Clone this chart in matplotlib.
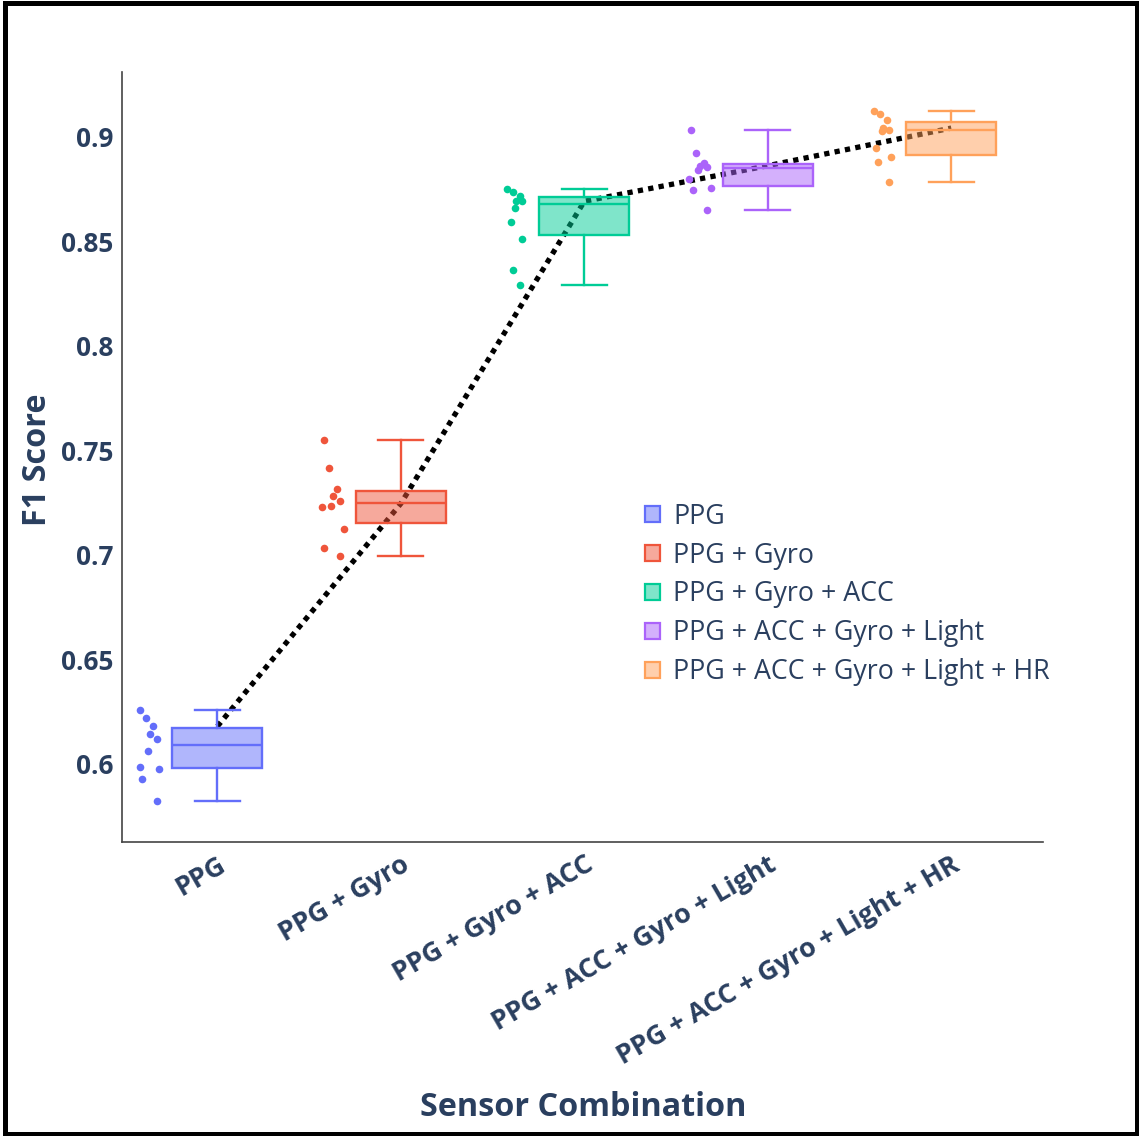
import matplotlib
matplotlib.use("Agg")
import matplotlib.pyplot as plt
import matplotlib.patches as mpatches
import numpy as np

# ---------------- data ----------------
categories = ["PPG", "PPG + Gyro", "PPG + Gyro + ACC",
              "PPG + ACC + Gyro + Light", "PPG + ACC + Gyro + Light + HR"]

ppg = [0.6259, 0.6219, 0.6182, 0.6144, 0.6120, 0.6062, 0.5987, 0.5978, 0.5930, 0.5824]
ppg_gyro = [0.7548, 0.7414, 0.7314, 0.7282, 0.7256, 0.7229, 0.7235, 0.7125, 0.7032, 0.6994]
ppg_gyro_acc = [0.8751, 0.8732, 0.8714, 0.8692, 0.8690, 0.8660, 0.8592, 0.8508, 0.8362, 0.8290]
ppg_acc_gyro_light = [0.9033, 0.8922, 0.8873, 0.8854, 0.8841, 0.8795, 0.8746, 0.8752, 0.8648, 0.8860]
ppg_acc_gyro_light_hr = [0.9120, 0.9108, 0.9080, 0.9040, 0.9032, 0.9025, 0.8946, 0.8901, 0.8878, 0.8780]

# horizontal placement of the individual points (category units)
jitter_ppg = [-0.42, -0.39, -0.35, -0.37, -0.33, -0.38, -0.42, -0.32, -0.41, -0.33]
jitter_gyro = [-0.42, -0.39, -0.35, -0.37, -0.33, -0.43, -0.38, -0.31, -0.42, -0.33]
jitter_acc = [-0.42, -0.39, -0.35, -0.37, -0.34, -0.38, -0.40, -0.34, -0.39, -0.35]
jitter_light = [-0.42, -0.39, -0.35, -0.33, -0.38, -0.43, -0.41, -0.31, -0.33, -0.37]
jitter_hr = [-0.42, -0.39, -0.35, -0.37, -0.34, -0.38, -0.41, -0.33, -0.40, -0.34]

# dotted trend line values
trend = [0.618, 0.7245, 0.869, 0.886, 0.904]

yticks = [0.6, 0.65, 0.7, 0.75, 0.8, 0.85, 0.9]
ytick_labels = ["0.6", "0.65", "0.7", "0.75", "0.8", "0.85", "0.9"]

colors = ["#636EFA", "#EF553B", "#00CC96", "#AB63FA", "#FFA15A"]

groups = [ppg, ppg_gyro, ppg_gyro_acc, ppg_acc_gyro_light, ppg_acc_gyro_light_hr]
jitters = [jitter_ppg, jitter_gyro, jitter_acc, jitter_light, jitter_hr]

# ---------------- figure ----------------
FONT = "Open Sans"
TXT = "#2a3f5f"
plt.rcParams["font.family"] = [FONT, "DejaVu Sans"]

W, H = 1139, 1136
fig = plt.figure(figsize=(W / 100, H / 100), dpi=100)
ax = fig.add_axes([122 / W, 1 - 842 / H, (1043 - 122) / W, (842 - 72) / H])

pos = np.arange(len(categories))

# trend line (beneath boxes)
ax.plot(pos, trend, color="black", lw=3.8, ls=(0, (1, 1.0)), zorder=1,
        solid_capstyle="butt", dash_capstyle="butt")

for i, (vals, col, jit) in enumerate(zip(groups, colors, jitters)):
    bp = ax.boxplot([vals], positions=[i], widths=0.49, whis=(0, 100),
                    showfliers=False, patch_artist=True, capwidths=[0.245],
                    manage_ticks=False, zorder=2)
    for b in bp["boxes"]:
        b.set_facecolor(matplotlib.colors.to_rgba(col, 0.5))
        b.set_edgecolor(col)
        b.set_linewidth(1.7)
    for key in ("whiskers", "caps", "medians"):
        for ln in bp[key]:
            ln.set_color(col)
            ln.set_linewidth(1.7)
    ax.scatter(np.array(jit) + i, vals, s=30, color=col, zorder=3, linewidths=0)

ax.set_xlim(-0.52, 4.5)
ax.set_ylim(0.5627, 0.9308)

ax.set_yticks(yticks)
ax.set_yticklabels(ytick_labels)
ax.set_xticks(pos)
ax.set_xticklabels(categories, rotation=30, ha="right", va="top",
                   rotation_mode="anchor")

for lab in ax.get_yticklabels():
    lab.set_fontweight("bold")
    lab.set_fontsize(18.8)
    lab.set_color(TXT)
for lab in ax.get_xticklabels():
    lab.set_fontweight("bold")
    lab.set_fontsize(19.4)
    lab.set_color(TXT)

ax.tick_params(axis="both", length=0)
ax.tick_params(axis="y", pad=6)
ax.tick_params(axis="x", pad=7)

for s in ("top", "right"):
    ax.spines[s].set_visible(False)
for s in ("left", "bottom"):
    ax.spines[s].set_color("#444444")
    ax.spines[s].set_linewidth(1.2)

fig.text(38 / W, 1 - 460 / H, "F1 Score", rotation=90, ha="center", va="center",
         fontsize=23.3, fontweight="bold", color=TXT)
fig.text(583 / W, 1 - 1107 / H, "Sensor Combination", ha="center", va="center",
         fontsize=23.3, fontweight="bold", color=TXT)

handles = [mpatches.Patch(facecolor=matplotlib.colors.to_rgba(c, 0.5), edgecolor=c,
                          linewidth=1.6, label=l) for c, l in zip(colors, categories)]
leg = fig.legend(handles=handles, loc="upper left",
                 bbox_to_anchor=(634 / W, 1 - 492 / H), frameon=False,
                 fontsize=19.3, handlelength=0.56, handleheight=0.56,
                 handletextpad=0.5, labelspacing=0.405, borderaxespad=0)
for t in leg.get_texts():
    t.set_color(TXT)

border = mpatches.Rectangle((5 / W, 2.5 / H), (1136.5 - 5) / W, (1133.5 - 2.5) / H,
                            transform=fig.transFigure, fill=False, lw=3.6,
                            ec="black", zorder=10)
fig.patches.append(border)

fig.savefig("out.png", dpi=100, facecolor="white")
